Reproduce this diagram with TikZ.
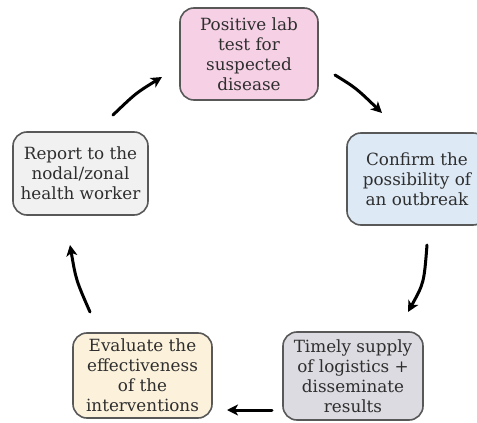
\documentclass[tikz,border=0pt]{standalone}
\usepackage{fontspec}
\setmainfont{DejaVu Serif}
\usetikzlibrary{arrows.meta}
\definecolor{txt}{HTML}{2E2E2E}
\definecolor{edge}{HTML}{585858}
\definecolor{pinkfill}{HTML}{F6D0E4}
\definecolor{bluefill}{HTML}{DDEAF6}
\definecolor{grayfill}{HTML}{DCDBE1}
\definecolor{creamfill}{HTML}{FCF2DC}
\definecolor{whitefill}{HTML}{F1F1F1}
\tikzset{
  stepbox/.style={draw=edge, line width=1.6pt, rounded corners=14pt,
    align=center, text=txt, inner sep=2pt,
    font=\fontsize{16.8}{20}\selectfont},
  flow/.style={line width=3pt, line cap=round,
    -{Stealth[length=11pt,width=11pt,inset=3pt]}}
}
\begin{document}
\begin{tikzpicture}[x=1pt,y=-1pt]
  \useasboundingbox (0,0) rectangle (477,423);
  \clip (0,0) rectangle (477,423);
  \fill[white] (0,0) rectangle (477,423);

  % stages of the response cycle
  \node[stepbox, fill=pinkfill, minimum width=138pt, minimum height=92pt]
    (lab) at (249,54) {Positive lab\\test for\\suspected\\disease};
  \node[stepbox, fill=bluefill, minimum width=140pt, minimum height=92pt]
    (confirm) at (417,179) {Confirm the\\possibility of\\an outbreak};
  \node[stepbox, fill=grayfill, minimum width=140pt, minimum height=88pt]
    (supply) at (353,376) {Timely supply\\of logistics +\\disseminate\\results};
  \node[stepbox, fill=creamfill, minimum width=139pt, minimum height=85pt]
    (evaluate) at (142.5,375.5) {Evaluate the\\effectiveness\\of the\\interventions};
  \node[stepbox, fill=whitefill, minimum width=135pt, minimum height=83pt]
    (report) at (80.5,173.5) {Report to the\\nodal/zonal\\health worker};

  % arrow end points between the stages
  \coordinate (a1s) at (335,75);   \coordinate (a1e) at (382,113);
  \coordinate (a2s) at (427,245);  \coordinate (a2e) at (408,312);
  \coordinate (a3s) at (272,410);  \coordinate (a3e) at (227,410);
  \coordinate (a4s) at (90,312);   \coordinate (a4e) at (70,245);
  \coordinate (a5s) at (113,115);  \coordinate (a5e) at (162,77);

  \draw[flow] (a1s) .. controls (356,88) .. (a1e);
  \draw[flow] (a2s) .. controls (424,283) .. (a2e);
  \draw[flow] (a3s) -- (a3e);
  \draw[flow] (a4s) .. controls (76,280) .. (a4e);
  \draw[flow] (a5s) .. controls (136,93) .. (a5e);
\end{tikzpicture}
\end{document}
